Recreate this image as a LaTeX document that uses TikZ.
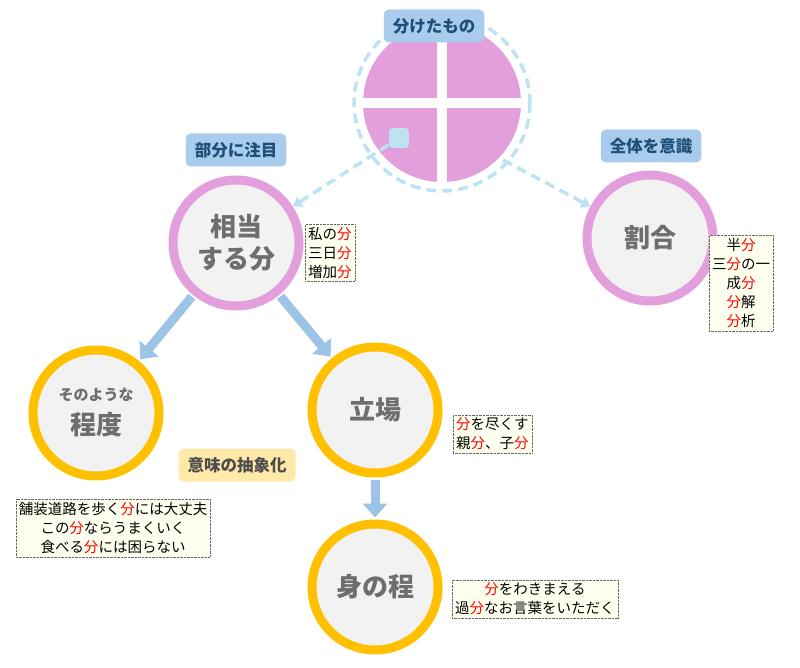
\documentclass[tikz,border=0pt]{standalone}
\usepackage{fontspec}
\setmainfont{Noto Sans CJK JP}
\usetikzlibrary{arrows.meta}
\definecolor{lbl}{HTML}{A9CCEC}
\definecolor{lbltx}{HTML}{1F4E79}
\definecolor{pinkc}{HTML}{E29FDB}
\definecolor{orc}{HTML}{FFC000}
\definecolor{dsh}{HTML}{BDE3F3}
\definecolor{arw}{HTML}{9DC3E6}
\definecolor{gtx}{HTML}{6E6E6E}
\definecolor{ylw}{HTML}{FFE9A8}
\definecolor{ivy}{HTML}{FFFFF0}
\newcommand{\R}{\textcolor{red}{分}}
\tikzset{
 ring/.style={circle,fill=black!5,line width=9pt,minimum size=126pt,inner sep=0,text=gtx,font=\bfseries\fontsize{26}{32}\selectfont,align=center},
 pring/.style={ring,draw=pinkc},
 oring/.style={ring,draw=orc},
 tag/.style={rounded corners=5pt,fill=lbl,text=lbltx,font=\bfseries\fontsize{16.5}{18}\selectfont,minimum height=33pt,inner xsep=9pt},
 ex/.style={draw=black!60,densely dotted,fill=ivy,font=\fontsize{14.5}{19}\selectfont,align=center,inner sep=3pt},
 dar/.style={dsh,line width=3.5pt,dash pattern=on 10pt off 6pt,-{Triangle[length=9pt,width=12pt]}},
 bar/.style={arw,line width=9pt,-{Triangle[length=14pt,width=24pt]},shorten >=2pt,shorten <=2pt}
}
\begin{document}
\begin{tikzpicture}[x=1pt,y=-1pt]
\useasboundingbox (0,0) rectangle (800,668);
% top pie
\fill[pinkc] (442,103) circle (79);
\fill[white] (437,20) rectangle (447,190);
\fill[white] (360,98) rectangle (525,108);
\draw[dsh,line width=3.5pt,dash pattern=on 10pt off 6pt] (442,103) circle (88);
\node[tag] (top) at (434,26) {分けたもの};
\node[fill=dsh,rounded corners=4pt,minimum size=20pt,inner sep=0] (piece) at (399,138) {};
\node[pring] (soto) at (236,243) {相当\\する分};
\node[pring] (wari) at (650,238) {割合};
\node[oring] (teido) at (96,413) {{\fontsize{15}{16}\selectfont そのような}\\[2pt]程度};
\node[oring] (tachi) at (375,410) {立場};
\node[oring] (mino) at (375,587) {身の程};
\coordinate (rgt) at (503,160);
\draw[dar] (piece) -- (soto);
\draw[dar] (rgt) -- (wari);
\draw[bar] (soto) -- (teido);
\draw[bar] (soto) -- (tachi);
\draw[bar] (tachi) -- (mino);
\node[tag] (t1) at (236,150) {部分に注目};
\node[tag] (t2) at (651,146) {全体を意識};
\node[tag,fill=ylw,text=gtx!70!black] (t3) at (237,465) {意味の抽象化};
\node[ex,anchor=west] (e1) at (305,253) {私の\R\\三日\R\\増加\R};
\node[ex,anchor=west] (e2) at (709,283) {半\R\\三\R の一\\成\R\\\R 解\\\R 析};
\node[ex,anchor=west] (e3) at (453,434) {\R を尽くす\\親\R、子\R};
\node[ex] (e4) at (113,528) {舗装道路を歩く\R には大丈夫\\この\R ならうまくいく\\食べる\R には困らない};
\node[ex,anchor=west] (e5) at (452,599) {\R をわきまえる\\過\R なお言葉をいただく};
\end{tikzpicture}
\end{document}
